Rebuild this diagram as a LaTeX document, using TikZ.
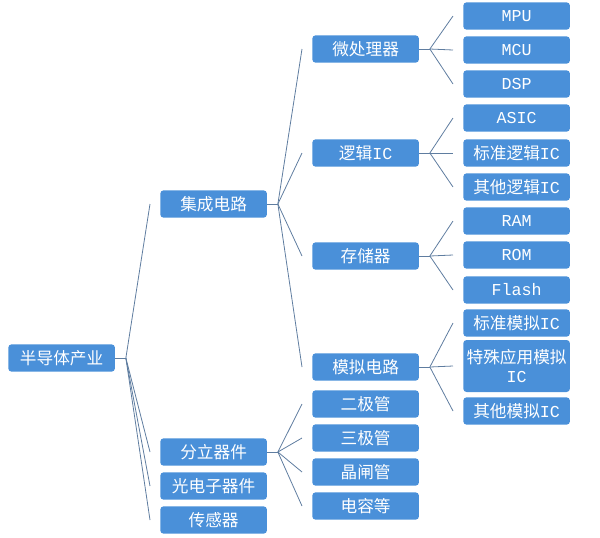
\documentclass[tikz,border=0pt]{standalone}
\usepackage{fontspec}
\setmainfont{Liberation Mono}
\newfontfamily\cjk{Noto Sans CJK SC}
\definecolor{boxblue}{RGB}{74,144,217}
\definecolor{linec}{RGB}{95,125,160}
\begin{document}
\begin{tikzpicture}[x=0.75pt,y=-0.75pt,
  bx/.style={draw=none,fill=boxblue,rounded corners=2.5pt,text=white,font=\fontsize{12.5}{14}\selectfont,
    minimum width=80pt,minimum height=20.5pt,inner sep=1pt,align=center,anchor=west},
  ln/.style={draw=linec,line width=0.6pt}]
\useasboundingbox (0,0) rectangle (600,537);
\node[bx] (root) at (8,358) {\cjk 半导体产业};
\node[bx] (ic) at (160,204) {\cjk 集成电路};
\node[bx] (dis) at (160,452) {\cjk 分立器件};
\node[bx] (opt) at (160,486) {\cjk 光电子器件};
\node[bx] (sen) at (160,520) {\cjk 传感器};
\node[bx] (mp) at (312,49) {\cjk 微处理器};
\node[bx] (lg) at (312,153) {{\cjk 逻辑}IC};
\node[bx] (st) at (312,256) {\cjk 存储器};
\node[bx] (an) at (312,367) {\cjk 模拟电路};
\node[bx] (d1) at (312,404) {\cjk 二极管};
\node[bx] (d2) at (312,438) {\cjk 三极管};
\node[bx] (d3) at (312,472) {\cjk 晶闸管};
\node[bx] (d4) at (312,506) {\cjk 电容等};
\node[bx] (a1) at (463,16) {MPU};
\node[bx] (a2) at (463,50) {MCU};
\node[bx] (a3) at (463,84) {DSP};
\node[bx] (b1) at (463,118) {ASIC};
\node[bx] (b2) at (463,153) {{\cjk 标准逻辑}IC};
\node[bx] (b3) at (463,187) {{\cjk 其他逻辑}IC};
\node[bx] (c1) at (463,221) {RAM};
\node[bx] (c2) at (463,255) {ROM};
\node[bx] (c3) at (463,290) {Flash};
\node[bx] (e1) at (463,323) {{\cjk 标准模拟}IC};
\node[bx,minimum height=39pt] (e2) at (463,366) {{\cjk 特殊应用模拟}\\IC};
\node[bx] (e3) at (463,411) {{\cjk 其他模拟}IC};
\foreach \p/\cs in {root/{ic,dis,opt,sen},ic/{mp,lg,st,an},dis/{d1,d2,d3,d4},mp/{a1,a2,a3},lg/{b1,b2,b3},st/{c1,c2,c3},an/{e1,e2,e3}}{
  \coordinate (f\p) at ([xshift=8pt]\p.east);
  \draw[ln] (\p.east) -- (f\p);
  \foreach \c in \cs { \draw[ln] (f\p) -- ([xshift=-7.5pt]\c.west); }
}
\end{tikzpicture}
\end{document}
